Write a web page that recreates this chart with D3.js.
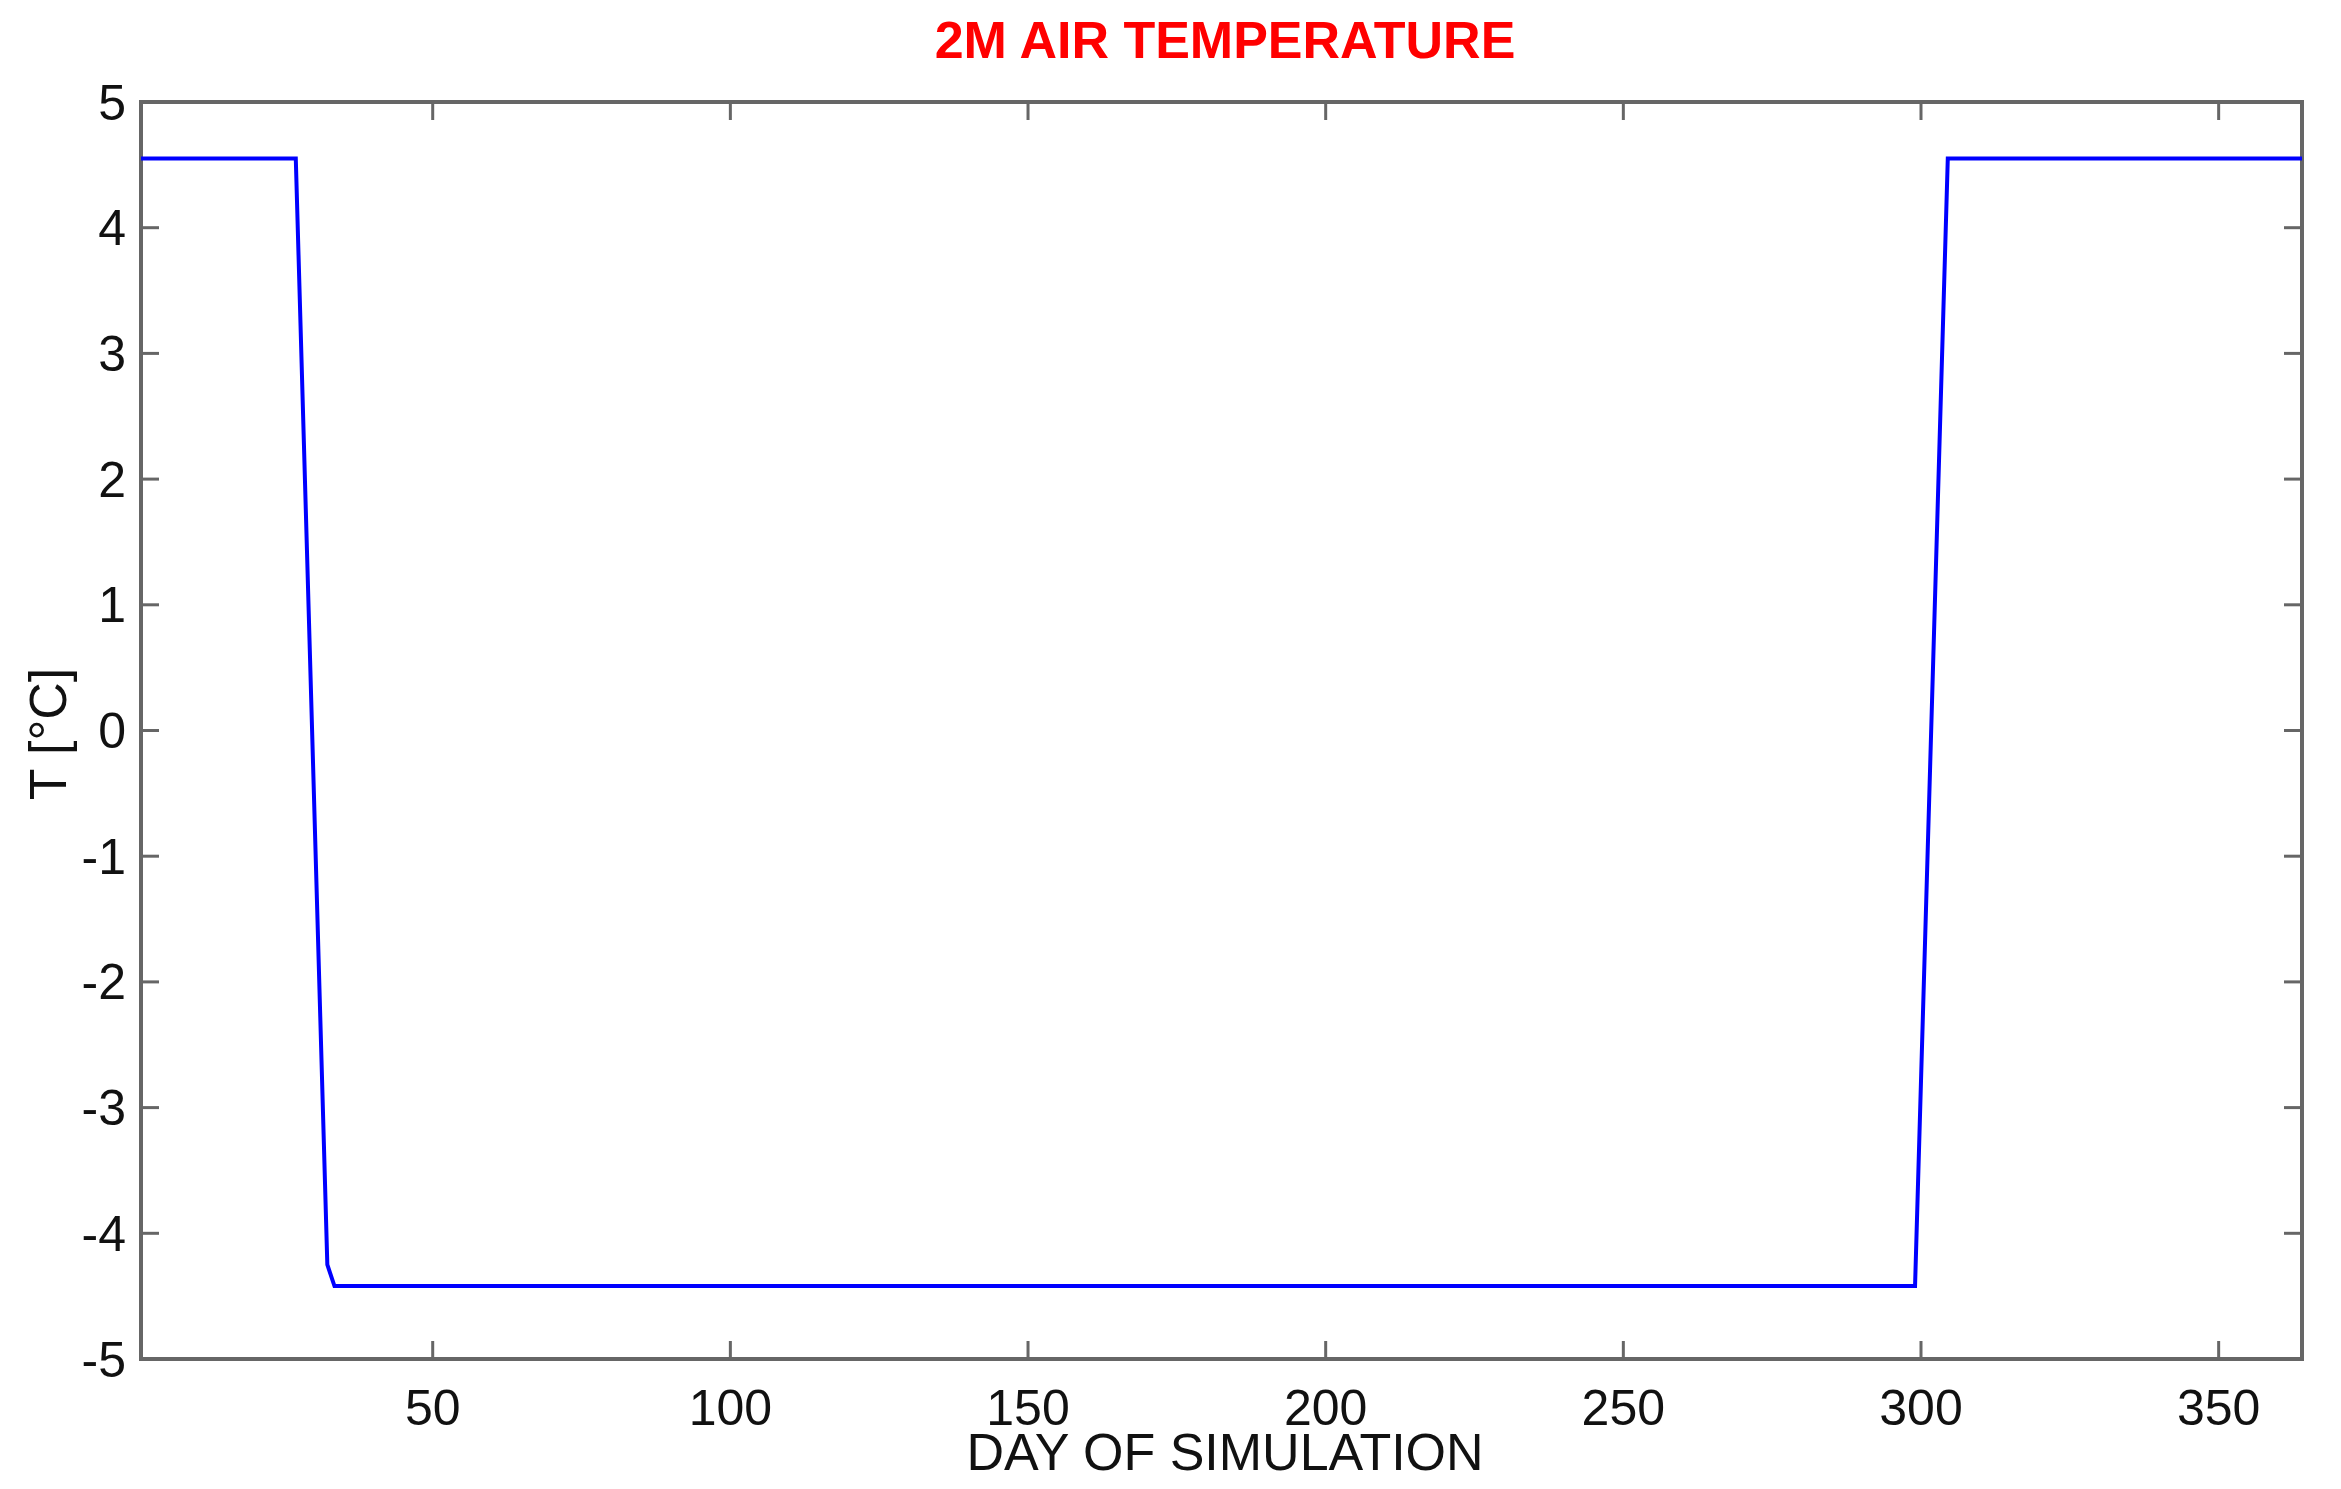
<!DOCTYPE html>
<html><head><meta charset="utf-8">
<script src="https://cdn.jsdelivr.net/npm/d3@7"></script>
<style>body{margin:0;background:#fff}text{font-family:"Liberation Sans",Arial,sans-serif}</style>
</head><body><svg id="c" width="2341" height="1489"></svg>
<script>
const days =  [1,   27,  32.3, 33.5,  299,   304.5, 364];
const temps = [4.55,4.55,-4.25,-4.42, -4.42, 4.55,  4.55];
const xTicks = [50,100,150,200,250,300,350];
const yTicks = [-5,-4,-3,-2,-1,0,1,2,3,4,5];
const title = "2M AIR TEMPERATURE", xLabel = "DAY OF SIMULATION", yLabel = "T [°C]";

const L=141,T=102,R=2302,B=1359;
const svg=d3.select("#c");
const x=d3.scaleLinear().domain([1,364]).range([L,R]);
const y=d3.scaleLinear().domain([-5,5]).range([B,T]);
const ax="#666", tl=18, fs=50;

const g=svg.append("g");
g.append("rect").attr("x",L).attr("y",T).attr("width",R-L).attr("height",B-T).attr("fill","none").attr("stroke",ax).attr("stroke-width",4);
xTicks.forEach(d=>{
  g.append("line").attr("x1",x(d)).attr("x2",x(d)).attr("y1",B).attr("y2",B-tl).attr("stroke",ax).attr("stroke-width",3);
  g.append("line").attr("x1",x(d)).attr("x2",x(d)).attr("y1",T).attr("y2",T+tl).attr("stroke",ax).attr("stroke-width",3);
  g.append("text").attr("x",x(d)).attr("y",1425).attr("text-anchor","middle").attr("font-size",fs).attr("fill","#111").text(d);
});
yTicks.forEach(d=>{
  g.append("line").attr("x1",L).attr("x2",L+tl).attr("y1",y(d)).attr("y2",y(d)).attr("stroke",ax).attr("stroke-width",3);
  g.append("line").attr("x1",R).attr("x2",R-tl).attr("y1",y(d)).attr("y2",y(d)).attr("stroke",ax).attr("stroke-width",3);
  g.append("text").attr("x",126).attr("y",y(d)).attr("dy","0.35em").attr("text-anchor","end").attr("font-size",fs).attr("fill","#111").text(d);
});
const line=d3.line().x((d,i)=>x(days[i])).y(d=>y(d));
svg.append("path").attr("d",line(temps)).attr("fill","none").attr("stroke","#0000ff").attr("stroke-width",4);
svg.append("text").attr("x",1225).attr("y",58).attr("text-anchor","middle").attr("font-size",52).attr("font-weight","bold").attr("fill","#ff0000").text(title);
svg.append("text").attr("x",1225).attr("y",1470).attr("text-anchor","middle").attr("font-size",52).attr("fill","#111").text(xLabel);
svg.append("text").attr("transform","translate(66,734) rotate(-90)").attr("text-anchor","middle").attr("font-size",52).attr("fill","#111").text(yLabel);
</script></body></html>
